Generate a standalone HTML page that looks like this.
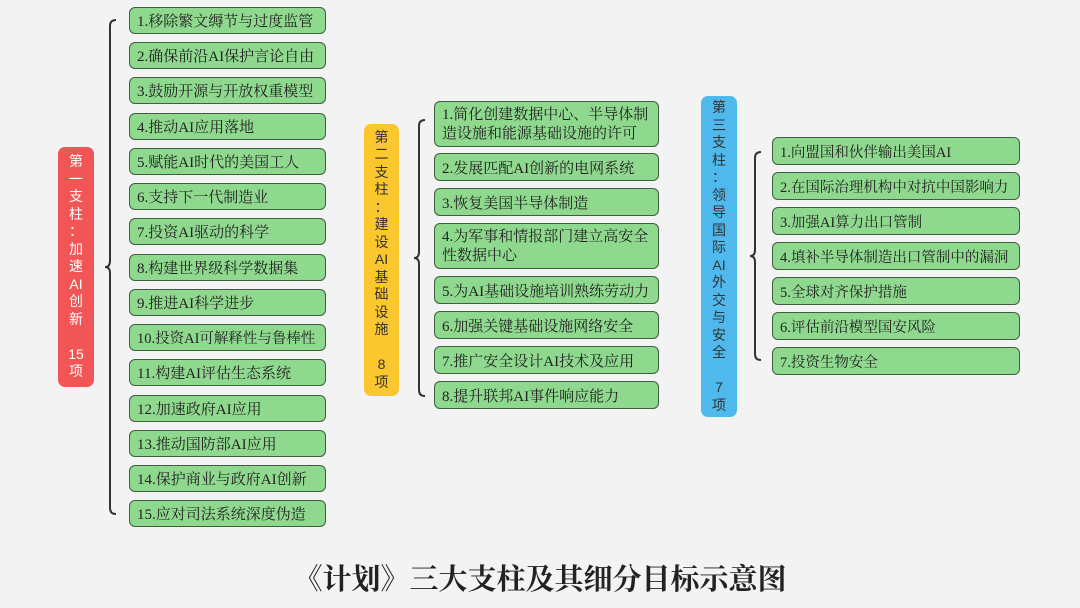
<!DOCTYPE html>
<html><head><meta charset="utf-8"><style>
body{margin:0;width:1080px;height:608px;background:#f3f3f3;position:relative;overflow:hidden;font-family:"Liberation Serif","Noto Serif CJK SC",serif;}
.b{position:absolute;box-sizing:border-box;background:#8fd98f;border:1.5px solid #3d5f3d;border-radius:6px;font-size:15px;color:#222;padding:3px 0 0 7px;line-height:18px;display:flex;align-items:center;white-space:nowrap;}
.b.t{white-space:normal;padding-right:4px;padding-top:2px;line-height:19px;}
.r{font-size:14.5px;}
.p{position:absolute;box-sizing:border-box;border-radius:7px;text-align:center;font-family:"Liberation Sans","Noto Sans CJK SC",sans-serif;font-size:14px;display:flex;flex-direction:column;justify-content:center;align-items:center;}
.p span{display:block;height:17.5px;line-height:17.5px;overflow:visible;}
.title{position:absolute;left:0;width:1080px;top:557px;text-align:center;font-size:29px;font-weight:bold;color:#222;font-family:"Liberation Serif","Noto Serif CJK SC",serif;}
</style></head><body>
<svg width="1080" height="608" style="position:absolute;left:0;top:0">
<g fill="none" stroke="#333" stroke-width="2">
<path d="M116 20 Q110 20 110 26 L110 261 Q110 267 105 267 Q110 267 110 273 L110 508 Q110 514 116 514"/>
<path d="M425 120 Q419 120 419 126 L419 252 Q419 258 414 258 Q419 258 419 264 L419 390 Q419 396 425 396"/>
<path d="M761 152 Q755 152 755 158 L755 250 Q755 256 750 256 Q755 256 755 262 L755 354 Q755 360 761 360"/>
</g></svg>

<div class="p" style="left:58px;top:147px;width:36px;height:240px;background:#f25555;color:#fff;">
<span>第</span><span>一</span><span>支</span><span>柱</span><span>：</span><span>加</span><span>速</span><span>AI</span><span>创</span><span>新</span><span>&nbsp;</span><span>15</span><span>项</span></div>
<div class="p" style="left:364px;top:124px;width:35px;height:272px;background:#fbc72e;color:#333;">
<span>第</span><span>二</span><span>支</span><span>柱</span><span>：</span><span>建</span><span>设</span><span>AI</span><span>基</span><span>础</span><span>设</span><span>施</span><span>&nbsp;</span><span>8</span><span>项</span></div>
<div class="p" style="left:701px;top:96px;width:36px;height:321px;background:#4fb8ec;color:#333;">
<span>第</span><span>三</span><span>支</span><span>柱</span><span>：</span><span>领</span><span>导</span><span>国</span><span>际</span><span>AI</span><span>外</span><span>交</span><span>与</span><span>安</span><span>全</span><span>&nbsp;</span><span>7</span><span>项</span></div>

<div class="b" style="left:129px;top:7px;width:197px;height:27px">1.移除繁文缛节与过度监管</div>
<div class="b" style="left:129px;top:42px;width:197px;height:27px">2.确保前沿AI保护言论自由</div>
<div class="b" style="left:129px;top:77px;width:197px;height:27px">3.鼓励开源与开放权重模型</div>
<div class="b" style="left:129px;top:113px;width:197px;height:27px">4.推动AI应用落地</div>
<div class="b" style="left:129px;top:148px;width:197px;height:27px">5.赋能AI时代的美国工人</div>
<div class="b" style="left:129px;top:183px;width:197px;height:27px">6.支持下一代制造业</div>
<div class="b" style="left:129px;top:218px;width:197px;height:27px">7.投资AI驱动的科学</div>
<div class="b" style="left:129px;top:254px;width:197px;height:27px">8.构建世界级科学数据集</div>
<div class="b" style="left:129px;top:289px;width:197px;height:27px">9.推进AI科学进步</div>
<div class="b r" style="left:129px;top:324px;width:197px;height:27px">10.投资AI可解释性与鲁棒性</div>
<div class="b" style="left:129px;top:359px;width:197px;height:27px">11.构建AI评估生态系统</div>
<div class="b" style="left:129px;top:395px;width:197px;height:27px">12.加速政府AI应用</div>
<div class="b" style="left:129px;top:430px;width:197px;height:27px">13.推动国防部AI应用</div>
<div class="b" style="left:129px;top:465px;width:197px;height:27px">14.保护商业与政府AI创新</div>
<div class="b" style="left:129px;top:500px;width:197px;height:27px">15.应对司法系统深度伪造</div>

<div class="b t" style="left:434px;top:101px;width:225px;height:46px">1.简化创建数据中心、半导体制造设施和能源基础设施的许可</div>
<div class="b" style="left:434px;top:153px;width:225px;height:28px">2.发展匹配AI创新的电网系统</div>
<div class="b" style="left:434px;top:188px;width:225px;height:28px">3.恢复美国半导体制造</div>
<div class="b t" style="left:434px;top:223px;width:225px;height:46px">4.为军事和情报部门建立高安全性数据中心</div>
<div class="b" style="left:434px;top:276px;width:225px;height:28px">5.为AI基础设施培训熟练劳动力</div>
<div class="b" style="left:434px;top:311px;width:225px;height:28px">6.加强关键基础设施网络安全</div>
<div class="b" style="left:434px;top:346px;width:225px;height:28px">7.推广安全设计AI技术及应用</div>
<div class="b" style="left:434px;top:381px;width:225px;height:28px">8.提升联邦AI事件响应能力</div>

<div class="b r" style="left:772px;top:137px;width:248px;height:28px">1.向盟国和伙伴输出美国AI</div>
<div class="b r" style="left:772px;top:172px;width:248px;height:28px">2.在国际治理机构中对抗中国影响力</div>
<div class="b r" style="left:772px;top:207px;width:248px;height:28px">3.加强AI算力出口管制</div>
<div class="b r" style="left:772px;top:242px;width:248px;height:28px">4.填补半导体制造出口管制中的漏洞</div>
<div class="b r" style="left:772px;top:277px;width:248px;height:28px">5.全球对齐保护措施</div>
<div class="b r" style="left:772px;top:312px;width:248px;height:28px">6.评估前沿模型国安风险</div>
<div class="b r" style="left:772px;top:347px;width:248px;height:28px">7.投资生物安全</div>

<div class="title">《计划》三大支柱及其细分目标示意图</div>
</body></html>
